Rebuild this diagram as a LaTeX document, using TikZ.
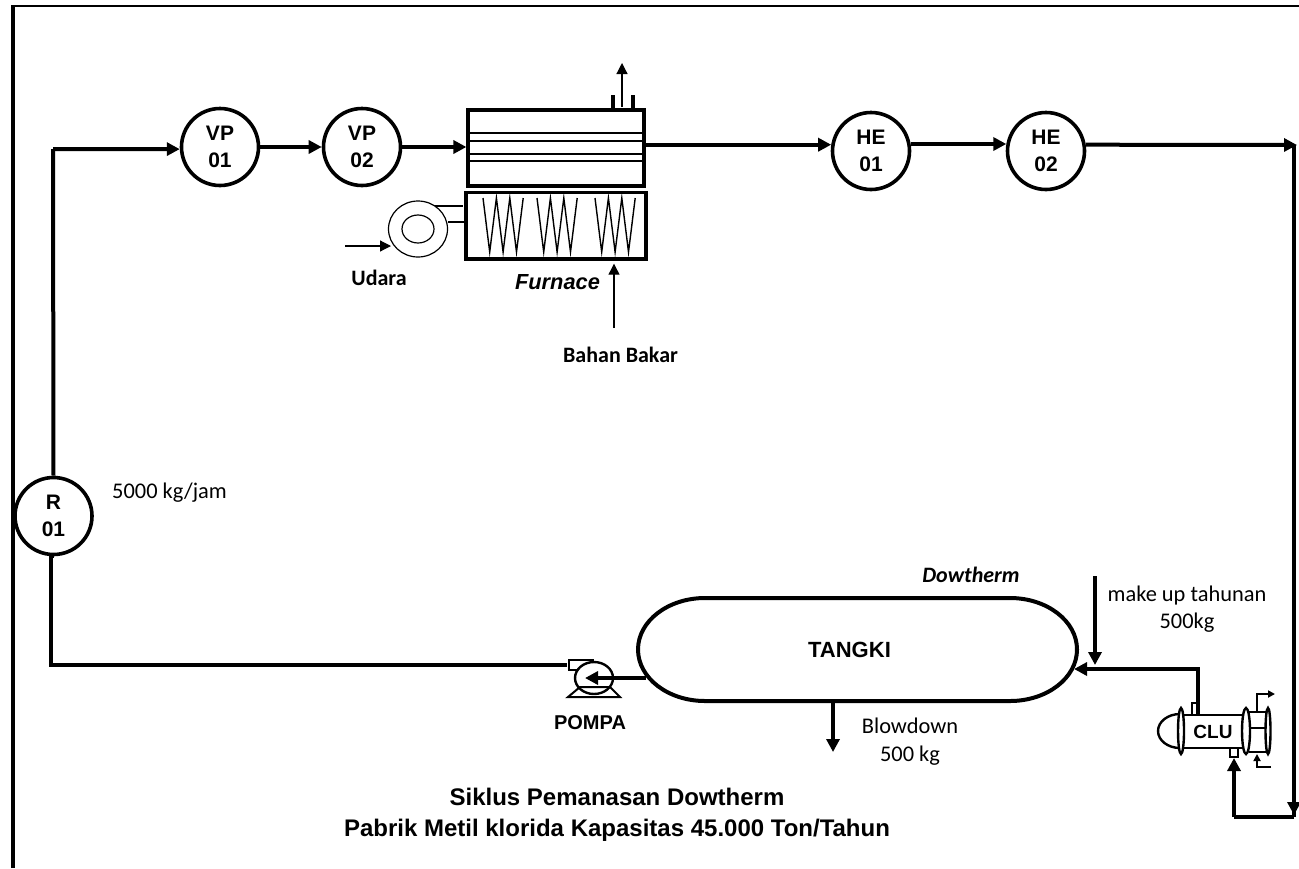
\documentclass[tikz,border=0pt]{standalone}
\usepackage{fontspec}
\setmainfont{Liberation Sans}
\newfontfamily\bodyfont{Carlito}
\usetikzlibrary{arrows.meta, calc}

\begin{document}
\begin{tikzpicture}[x=0.5pt, y=-0.5pt,
    >={Triangle[length=6.5pt, width=6.5pt]},
    font=\bfseries\fontsize{10.5}{13.5}\selectfont,
    pipe/.style={draw, line width=2pt},
    thinpipe/.style={draw, line width=0.6pt, -{Triangle[length=5.5pt, width=5.5pt]}},
    unit/.style={draw, circle, line width=1.8pt, minimum size=38.5pt, inner sep=0pt, align=center, fill=white},
    smallpipe/.style={draw, line width=1.2pt, -{Triangle[length=3.5pt, width=3.5pt]}},
    coil/.style={draw, line width=0.7pt},
    note/.style={font=\bodyfont\fontsize{11.2}{13.8}\selectfont, align=center},
    tag/.style={font=\bodyfont\bfseries\fontsize{11}{13}\selectfont}
]

% frame
\useasboundingbox (0,0) rectangle (1299,868);
\draw[line width=2pt] (13,868) -- (13,5);
\draw[line width=1.3pt] (12,6) -- (1299,6);

% units
\node[unit] (r1) at (53.5,516) {R\\01};
\node[unit] (vp1) at (220,147) {VP\\01};
\node[unit] (vp2) at (362,147) {VP\\02};
\node[unit] (he1) at (871,151) {HE\\01};
\node[unit] (he2) at (1046,151) {HE\\02};

% furnace
\node[draw, line width=1.6pt, minimum width=88pt, minimum height=38pt, inner sep=0pt] (conv) at (556,148) {};
\node[draw, line width=1.8pt, minimum width=90pt, minimum height=33.2pt, inner sep=0pt] (rad) at (556,225.7) {};
\foreach \y in {133,141,154,161} {
  \draw[line width=0.6pt] (conv.west |- 0,\y) -- (conv.east |- 0,\y);
}
\foreach \x in {483,537,595} {
  \draw[coil] (\x,198) -- ++(6.7,54) -- ++(6.7,-54) -- ++(6.7,54) -- ++(6.7,-54) -- ++(6.7,54) -- ++(6.7,-54);
}
\draw[line width=1.8pt] (613,95) -- (613,110);
\draw[line width=1.8pt] (633,95) -- (633,110);
\coordinate (stackbase) at (622,107);
\coordinate (stacktop) at (622,63);
\draw[thinpipe] (stackbase) -- (stacktop);

% blower
\draw[line width=0.6pt] (418,229) ellipse (29.5 and 28);
\draw[line width=0.6pt] (418,229) ellipse (16 and 14);
\draw[line width=1pt] (435,206) -- (463,206);
\draw[line width=1pt] (448,222) -- (466,222);
\coordinate (airin) at (345,246);
\coordinate (airend) at (391,246);
\draw[thinpipe] (airin) -- (airend);
\node[tag] (udara) at (379,278) {Udara};
\node[font=\bfseries\itshape\fontsize{10.9}{13}\selectfont] (furn) at (557.5,282) {Furnace};
\coordinate (fuelin) at (614,328);
\draw[thinpipe, shorten >=1.5pt] (fuelin) -- (rad.south -| fuelin);
\node[tag] (fuel) at (620.5,355) {Bahan Bakar};

% tank
\node[minimum width=219.5pt, minimum height=51.5pt, inner sep=0pt] (tank) at (857.5,649.5) {};
\draw[line width=2pt] (705,598) -- (1010,598) arc (270:450:67 and 51.5) -- (705,701) arc (90:270:67 and 51.5) -- cycle;
\node[font=\bfseries\fontsize{11}{13}\selectfont] (tanktxt) at (849.5,650) {TANGKI};
\node[font=\bodyfont\bfseries\itshape\fontsize{11}{13}\selectfont] (dow) at (971,575) {Dowtherm};
\node[note] (mk) at (1187,609) {make up tahunan\\500kg};
\node[note] (bd) at (910,741.5) {Blowdown\\500 kg};
\coordinate (mkin) at (1095,576);
\coordinate (mkend) at (1095,665);
\draw[pipe, ->] (mkin) -- (mkend);
\coordinate (bdout) at (833,752);
\draw[pipe, ->] (tank.south -| bdout) -- (bdout);

% pump
\draw[line width=1.2pt, fill=white] (594,678) ellipse (19 and 16);
\draw[line width=1.2pt] (594,660) -- (569,660) -- (569,670) -- (578,670);
\draw[line width=1pt] (568,697) -- (620,697) -- (610,687) -- (580,687) -- cycle;
\node[font=\bfseries\fontsize{10}{12}\selectfont] (pompa) at (590,723) {POMPA};
\coordinate (pumpc) at (585,678);
\draw[pipe, ->] (tank.west |- pumpc) ++(8,0) -- (pumpc);

% condenser
\draw[line width=1.2pt, fill=white] (1180,748) arc (90:270:22 and 17);
\node[draw, fill=white, line width=1.2pt, minimum width=30pt, minimum height=16.5pt, inner sep=0pt, font=\bfseries\fontsize{9.5}{11}\selectfont] (clu) at (1213,731.5) {CLU};
\draw[line width=1.2pt, fill=white] (1181,731) ellipse (3 and 23);
\draw[line width=1.2pt, fill=white] (1246,731) ellipse (4 and 23);
\draw[line width=1.2pt, fill=white] (1268,731) ellipse (2.5 and 23);
\draw[line width=1.2pt] (1249,712) -- (1266,712) (1249,728) -- (1266,728) (1249,752) -- (1266,752);
\draw[line width=1.2pt] (1192,714) -- (1192,703) -- (1197,703);
\draw[line width=1.2pt] (1230,748) -- (1230,757) -- (1238,757) -- (1238,748);
\draw[smallpipe] (1257,711) -- (1257,694) -- (1275,694);
\draw[smallpipe] (1271,767) -- (1257,767) -- (1257,754);

% flows
\coordinate (topend) at (1297,145);
\coordinate (topcorner) at (1294,145);
\coordinate (corner1) at (53,149);
\coordinate (corner2) at (51,665);
\coordinate (clucorner) at (1234,817);
\coordinate (rightlow) at (1294,817);
\coordinate (lowtip) at (1294,815);
\coordinate (clutip) at (1234,758);
\coordinate (pumpout) at (567,665);
\coordinate (mkcorner) at (1198,669);
\coordinate (tankin) at (1074,669);
\node[note] (flow) at (169.5,493) {5000 kg/jam};
\draw[pipe] (r1.north) -- (corner1);
\draw[pipe, ->] (corner1) -- (vp1.183);
\draw[pipe, ->] (vp1) -- (vp2);
\draw[pipe, ->] (vp2) -- (conv.west |- vp2);
\draw[pipe, ->] (he1.171 -| conv.east) -- (he1.171);
\draw[pipe, ->] (he1.10) -- (he2.170);
\draw[pipe, ->] (he2.9) -- (topend);
\draw[pipe] (topcorner) -- (rightlow);
\draw[pipe, ->] (topcorner) -- (lowtip);
\draw[pipe] (rightlow) -- (clucorner);
\draw[pipe, ->] (clucorner) -- (clutip);
\draw[pipe] (r1.south) -- (r1.south -| corner2) -- (corner2) -- (pumpout);
\draw[pipe, ->] (clu.north -| mkcorner) -- (mkcorner) -- (tankin);

% title
\node[align=center, font=\bfseries\fontsize{12}{15.5}\selectfont] (title) at (617,815) {Siklus Pemanasan Dowtherm\\Pabrik Metil klorida Kapasitas 45.000 Ton/Tahun};

\end{tikzpicture}
\end{document}
